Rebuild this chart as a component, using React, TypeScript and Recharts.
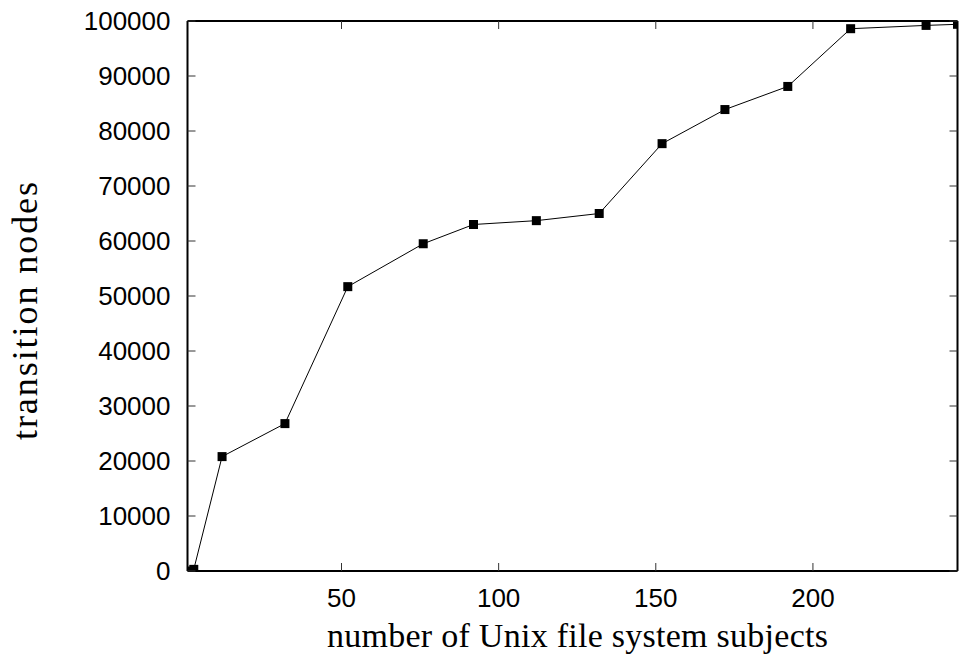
import React from 'react';
import { LineChart, Line, XAxis, YAxis } from 'recharts';

// number of Unix file system subjects
const subjects = [1, 3, 12, 32, 52, 76, 92, 112, 132, 152, 172, 192, 212, 236, 246];
// transition nodes
const transitionNodes = [0, 300, 20800, 26800, 51700, 59500, 63000, 63700, 65000, 77700, 83900, 88100, 98600, 99200, 99400];
const xTicks = [50, 100, 150, 200];
const yTicks = [0, 10000, 20000, 30000, 40000, 50000, 60000, 70000, 80000, 90000, 100000];

const xTitle = 'number of Unix file system subjects';
const yTitle = 'transition nodes';

const data = subjects.map((s, i) => ({ s, v: transitionNodes[i] }));

const TICK_LEN = 8;
const TICK_COLOR = '#333';
const sansFont = '"Liberation Sans", Arial, Helvetica, sans-serif';
const serifFont = '"Liberation Serif", "Times New Roman", serif';

function BottomTick(props: any) {
  const { x, y, payload } = props;
  return (
    <g>
      <line x1={x} y1={y} x2={x} y2={y - TICK_LEN} stroke={TICK_COLOR} strokeWidth={1} />
      <text x={x} y={y + 36} textAnchor="middle" fontFamily={sansFont} fontSize={26} fill="#000">
        {payload.value}
      </text>
    </g>
  );
}

function TopTick(props: any) {
  const { x, y } = props;
  return <line x1={x} y1={y} x2={x} y2={y + TICK_LEN} stroke={TICK_COLOR} strokeWidth={1} />;
}

function LeftTick(props: any) {
  const { x, y, payload } = props;
  return (
    <g>
      <line x1={x} y1={y} x2={x + TICK_LEN} y2={y} stroke={TICK_COLOR} strokeWidth={1} />
      <text x={x - 17} y={y} dy="0.36em" textAnchor="end" fontFamily={sansFont} fontSize={26} fill="#000">
        {payload.value}
      </text>
    </g>
  );
}

function RightTick(props: any) {
  const { x, y } = props;
  return <line x1={x} y1={y} x2={x - TICK_LEN} y2={y} stroke={TICK_COLOR} strokeWidth={1} />;
}

function XTitle(props: any) {
  const { viewBox } = props;
  const { x, y, width } = viewBox;
  return (
    <text x={x + width / 2 + 5} y={y + 76} textAnchor="middle" fontFamily={serifFont} fontSize={34} textLength={501} lengthAdjust="spacing" fill="#000">
      {xTitle}
    </text>
  );
}

function YTitle(props: any) {
  const { viewBox } = props;
  const { x, y, height } = viewBox;
  const cx = x + 37;
  const cy = y + height / 2 + 15;
  return (
    <text x={cx} y={cy} transform={`rotate(-90, ${cx}, ${cy})`} textAnchor="middle" fontFamily={serifFont} fontSize={36} textLength={258} lengthAdjust="spacing" fill="#000">
      {yTitle}
    </text>
  );
}

function SquareDot(props: any) {
  const { cx, cy, index } = props;
  const s = 9;
  return <rect key={`sq-${index}`} x={cx - s / 2} y={cy - s / 2} width={s} height={s} fill="#000" />;
}

export default function App() {
  return (
    <div style={{ position: 'absolute', left: 0, top: 0, width: 959, height: 659, background: '#fff' }}>
      <LineChart width={959} height={659} data={data} margin={{ top: 20, right: 0.5, bottom: 0, left: 0 }}>
        <XAxis
          xAxisId="bottom"
          dataKey="s"
          type="number"
          domain={[1, 246]}
          ticks={xTicks}
          allowDataOverflow
          orientation="bottom"
          height={88}
          tickSize={0}
          tickMargin={0}
          tickLine={false}
          tick={<BottomTick />}
          axisLine={{ stroke: '#000', strokeWidth: 2 }}
          label={<XTitle />}
        />
        <XAxis
          xAxisId="top"
          dataKey="s"
          type="number"
          domain={[1, 246]}
          ticks={xTicks}
          allowDataOverflow
          orientation="top"
          height={1}
          tickSize={0}
          tickMargin={0}
          tickLine={false}
          tick={<TopTick />}
          axisLine={{ stroke: '#000', strokeWidth: 2 }}
        />
        <YAxis
          yAxisId="left"
          type="number"
          domain={[0, 100000]}
          ticks={yTicks}
          allowDataOverflow
          orientation="left"
          width={187.5}
          tickSize={0}
          tickMargin={0}
          tickLine={false}
          tick={<LeftTick />}
          axisLine={{ stroke: '#000', strokeWidth: 2 }}
          label={<YTitle />}
        />
        <YAxis
          yAxisId="right"
          type="number"
          domain={[0, 100000]}
          ticks={yTicks}
          allowDataOverflow
          orientation="right"
          width={1}
          tickSize={0}
          tickMargin={0}
          tickLine={false}
          tick={<RightTick />}
          axisLine={{ stroke: '#000', strokeWidth: 2 }}
        />
        <Line
          xAxisId="bottom"
          yAxisId="left"
          dataKey="v"
          type="linear"
          stroke="#000"
          strokeWidth={1}
          dot={(p: any) => <SquareDot key={`d-${p.index}`} {...p} />}
          activeDot={false}
          isAnimationActive={false}
        />
      </LineChart>
    </div>
  );
}
